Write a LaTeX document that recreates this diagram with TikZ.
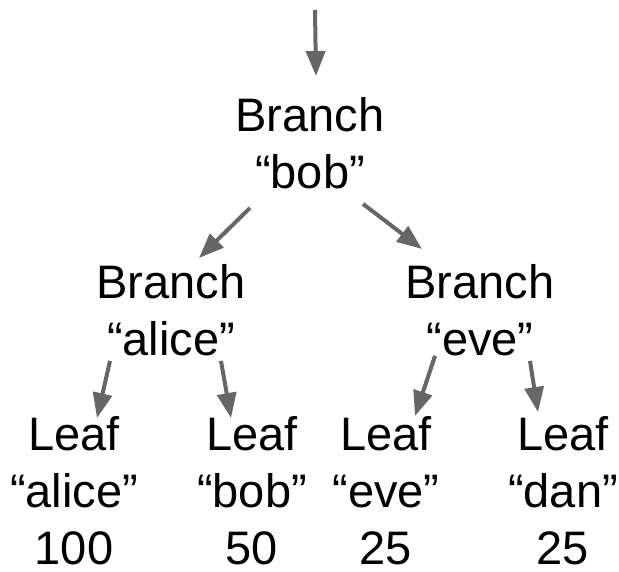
\documentclass[tikz,border=0pt]{standalone}
\usepackage{fontspec}
\setmainfont{Liberation Sans}
\usetikzlibrary{arrows.meta}
\begin{document}
\begin{tikzpicture}[x=1pt,y=-1pt,
  label/.style={anchor=north, inner sep=0pt, align=center,
    font=\fontsize{47}{57}\selectfont, text=black},
  arr/.style={draw=arrowgray, line width=4pt,
    -{Triangle[length=25pt,width=19pt]}}]
  \definecolor{arrowgray}{HTML}{666666}
  \useasboundingbox (0,0) rectangle (619,572);

  % tree nodes
  \node[label] (bob)   at (310,97)  {Branch\\“bob”};
  \node[label] (alice) at (171,264) {Branch\\“alice”};
  \node[label] (eve)   at (480,264) {Branch\\“eve”};
  \node[label] (la)    at (74,416)  {Leaf\\“alice”\\100};
  \node[label] (lb)    at (252,416) {Leaf\\“bob”\\50};
  \node[label] (le)    at (386,416) {Leaf\\“eve”\\25};
  \node[label] (ld)    at (563,416) {Leaf\\“dan”\\25};
  \coordinate (root) at (315,10);

  % connectors
  \draw[arr] (root) -- ([xshift=6pt,yshift=21pt]bob.north);
  \draw[arr] ([xshift=-60pt,yshift=-19pt]bob.south) -- ([xshift=28pt,yshift=6pt]alice.north);
  \draw[arr] ([xshift=53pt,yshift=-15pt]bob.south) -- ([xshift=-58pt,yshift=15pt]eve.north);
  \draw[arr] ([xshift=-61pt,yshift=-5pt]alice.south) -- ([xshift=23pt,yshift=-2pt]la.north);
  \draw[arr] ([xshift=50pt,yshift=-5pt]alice.south) -- ([xshift=-21pt,yshift=-2pt]lb.north);
  \draw[arr] ([xshift=-45pt,yshift=0pt]eve.south) -- ([xshift=29pt,yshift=0pt]le.north);
  \draw[arr] ([xshift=50pt,yshift=-5pt]eve.south) -- ([xshift=-25pt,yshift=4pt]ld.north);
\end{tikzpicture}
\end{document}
